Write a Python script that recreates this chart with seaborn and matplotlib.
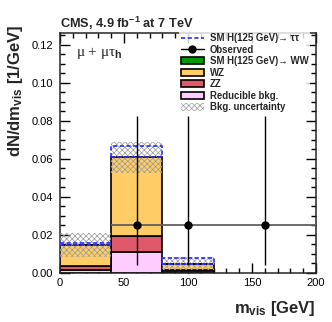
import numpy as np
import pandas as pd
import matplotlib
matplotlib.use("Agg")
import matplotlib.pyplot as plt
import seaborn as sns
from matplotlib.patches import Patch
from matplotlib.lines import Line2D
from matplotlib.ticker import MultipleLocator

# ---- data ----
bin_edges = [0, 40, 80, 120]
bin_centers = [20, 60, 100]
reducible = [0.0014, 0.0108, 0.0005]
zz = [0.0021, 0.0083, 0.0007]
wz = [0.0112, 0.0416, 0.0036]
ww = [0.0, 0.0, 0.0]
htt = [0.0012, 0.0062, 0.0028]
bkg_unc = [0.0063, 0.0080, 0.0034]

obs_x = [60, 100, 160]
obs_y = [0.025, 0.025, 0.025]
obs_yerr_lo = [0.0207, 0.0207, 0.0207]
obs_yerr_hi = [0.0575, 0.0575, 0.0575]
obs_xerr_lo = [20, 20, 40]
obs_xerr_hi = [20, 20, 40]

labels = ["SM H(125 GeV)\u2192 \u03c4\u03c4", "Observed", "SM H(125 GeV)\u2192 WW",
          "WZ", "ZZ", "Reducible bkg.", "Bkg. uncertainty"]

colors = {"WW": "#009a00", "WZ": "#ffcc66", "ZZ": "#de5a6a", "Reducible": "#ffccff"}

# ---- style ----
sns.set_style("ticks")
plt.rcParams["font.family"] = ["Liberation Sans", "DejaVu Sans"]
plt.rcParams["mathtext.fontset"] = "custom"
plt.rcParams["mathtext.rm"] = "Liberation Sans"
plt.rcParams["mathtext.bf"] = "Liberation Sans:bold"
plt.rcParams["mathtext.it"] = "Liberation Sans:italic"
plt.rcParams["hatch.linewidth"] = 0.5
plt.rcParams["axes.linewidth"] = 1.1

fig = plt.figure(figsize=(3.32, 3.22), dpi=100)
ax = fig.add_axes([60 / 332, 1 - 272.7 / 322, 256 / 332, (272.7 - 33) / 322])

# ---- stacked backgrounds via seaborn ----
rows = []
for name, vals in [("WW", ww), ("WZ", wz), ("ZZ", zz), ("Reducible", reducible)]:
    for c, v in zip(bin_centers, vals):
        rows.append({"x": c, "w": v, "process": name})
df = pd.DataFrame(rows)
sns.histplot(df, x="x", weights="w", hue="process",
             hue_order=["WW", "WZ", "ZZ", "Reducible"], multiple="stack",
             bins=bin_edges, palette=colors, edgecolor="black", linewidth=1.2,
             alpha=1, legend=False, ax=ax)

total = np.array(reducible) + np.array(zz) + np.array(wz) + np.array(ww)
widths = np.diff(bin_edges)

# uncertainty band
ax.bar(bin_centers, 2 * np.array(bkg_unc), bottom=total - np.array(bkg_unc), width=widths,
       color="none", hatch="xxxxxx", edgecolor="#9a9a9a", linewidth=0, zorder=3)
# signal H->tautau dashed on top
ax.bar(bin_centers, htt, bottom=total, width=widths, fill=False, edgecolor="#2a2aff",
       linestyle=(0, (2.5, 1.5)), linewidth=1.2, zorder=4)

# observed
ax.errorbar(obs_x, obs_y, xerr=[obs_xerr_lo, obs_xerr_hi], fmt="none", ecolor="#606060",
            elinewidth=1.3, capsize=0, zorder=5)
ax.errorbar(obs_x, obs_y, yerr=[obs_yerr_lo, obs_yerr_hi], fmt="o", color="black",
            ms=5, elinewidth=1.0, capsize=0, zorder=6)

# ---- axes ----
ax.set_xlim(0, 200)
ax.set_ylim(0, 0.1262)
ax.xaxis.set_major_locator(MultipleLocator(50))
ax.xaxis.set_minor_locator(MultipleLocator(10))
ax.yaxis.set_major_locator(MultipleLocator(0.02))
ax.yaxis.set_minor_locator(MultipleLocator(0.005))
ax.yaxis.set_major_formatter(matplotlib.ticker.FormatStrFormatter("%.2f"))
ax.tick_params(which="both", direction="in", top=True, right=True, labelsize=8, width=1.0,
               colors="black")
ax.tick_params(which="major", length=7)
ax.tick_params(axis="y", which="major", pad=5)
ax.tick_params(axis="x", which="major", pad=3.5)
ax.tick_params(which="minor", length=3.5)
ax.set_xlabel("m$_{\\mathbf{vis}}$ [GeV]", fontsize=12, fontweight="bold", loc="right")
ax.set_ylabel("dN/dm$_{\\mathbf{vis}}$ [1/GeV]", fontsize=12, fontweight="bold", loc="top")
ax.yaxis.set_label_coords(-0.135, 1.037)
ax.xaxis.set_label_coords(1.0, -0.11)

fig.text(60 / 332, 1 - 28 / 322, "CMS, 4.9 fb$^{\\mathbf{-1}}$ at 7 TeV", fontsize=9.2,
         fontweight="bold", ha="left", va="baseline")
ax.text(0.063, 0.902, "\u03bc + \u03bc\u03c4$_{\\mathbf{h}}$", transform=ax.transAxes, fontsize=11,
        family=["Liberation Serif", "DejaVu Serif"], ha="left", va="baseline")

# ---- legend ----
handles = [
    Line2D([], [], color="#2a2aff", linestyle=(0, (2.5, 1.5)), linewidth=1.2),
    Line2D([], [], color="black", marker="o", ms=5, linewidth=1.0),
    Patch(facecolor=colors["WW"], edgecolor="black", linewidth=1.2),
    Patch(facecolor=colors["WZ"], edgecolor="black", linewidth=1.2),
    Patch(facecolor=colors["ZZ"], edgecolor="black", linewidth=1.2),
    Patch(facecolor=colors["Reducible"], edgecolor="black", linewidth=1.2),
    Patch(facecolor="white", edgecolor="#9a9a9a", hatch="xxxxxx", linewidth=0),
]
leg = ax.legend(handles, labels, loc="upper left", bbox_to_anchor=(0.465, 1.008),
                frameon=True, prop={"weight": "bold", "size": 6.9},
                handlelength=2.4, handleheight=0.8, handletextpad=0.6,
                labelspacing=0.16, borderpad=0.2, borderaxespad=0)
leg.get_frame().set_linewidth(0)
leg.get_frame().set_facecolor("white")
leg.set_zorder(7)

fig.savefig("out.png", dpi=100)
